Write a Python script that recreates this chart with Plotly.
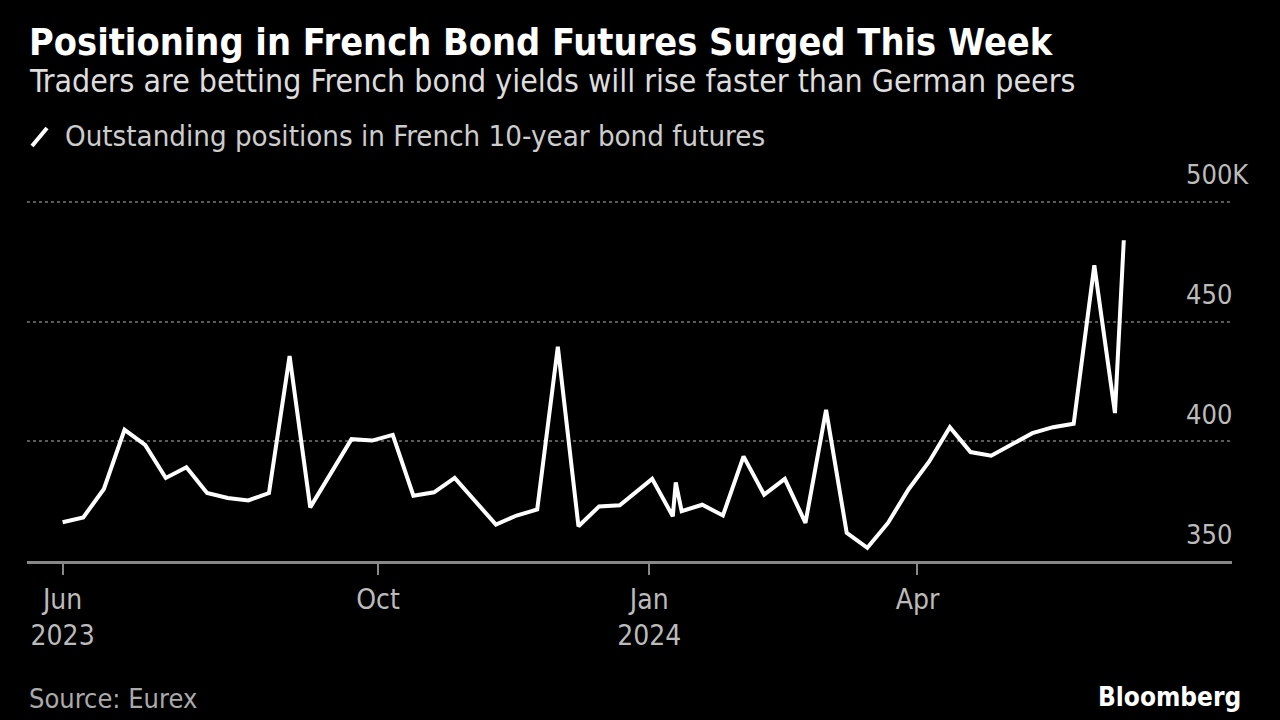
import plotly.graph_objects as go

# ---- data ----
dates = [
    "2023-06-16", "2023-06-23", "2023-06-30", "2023-07-07", "2023-07-14", "2023-07-21",
    "2023-07-28", "2023-08-04", "2023-08-11", "2023-08-18", "2023-08-25", "2023-09-01",
    "2023-09-08", "2023-09-15", "2023-09-22", "2023-09-29", "2023-10-06", "2023-10-13",
    "2023-10-20", "2023-10-27", "2023-11-03", "2023-11-10", "2023-11-17", "2023-11-24",
    "2023-12-01", "2023-12-08", "2023-12-15", "2023-12-22", "2024-01-02", "2024-01-09",
    "2024-01-10", "2024-01-12", "2024-01-19", "2024-01-26", "2024-02-02", "2024-02-09",
    "2024-02-16", "2024-02-23", "2024-03-01", "2024-03-08", "2024-03-15", "2024-03-22",
    "2024-03-29", "2024-04-05", "2024-04-12", "2024-04-19", "2024-04-26", "2024-05-03",
    "2024-05-10", "2024-05-17", "2024-05-24", "2024-05-31", "2024-06-07", "2024-06-10",
]
positions_k = [
    366.2, 368.2, 380.1, 404.8, 398.5, 384.7,
    389.2, 378.4, 376.3, 375.3, 378.4, 435.6,
    372.4, 386.5, 400.9, 400.3, 402.7, 377.3,
    378.7, 384.7, 374.9, 365.2, 369.0, 371.5,
    439.5, 364.5, 372.8, 373.3, 384.3, 368.7,
    382.8, 370.8, 373.5, 369.0, 393.7, 377.7,
    384.3, 365.9, 413.1, 361.8, 355.5, 365.9,
    380.0, 391.6, 405.9, 395.5, 394.0, 398.5,
    403.4, 405.9, 407.3, 473.5, 411.8, 484.0,
]

x_tick_vals = ["2023-06-16", "2023-10-01", "2024-01-01", "2024-04-01"]
x_tick_text = ["Jun<br>2023", "Oct", "Jan<br>2024", "Apr"]
y_tick_vals = [350, 400, 450, 500]
y_tick_text = ["350", "400", "450", "500K"]

title = "Positioning in French Bond Futures Surged This Week"
subtitle = "Traders are betting French bond yields will rise faster than German peers"
legend_text = "Outstanding positions in French 10-year bond futures"
source = "Source: Eurex"
brand = "Bloomberg"

FONT = "DejaVu Sans Condensed, Liberation Sans Narrow, DejaVu Sans, sans-serif"

W, H = 1280, 720
ML, MR, MT, MB = 27, 48, 178, 159
PH = H - MT - MB
PW = W - ML - MR


def py(pix):
    return (H - MB - pix) / PH


def px(pix):
    return (pix - ML) / PW


fig = go.Figure()
fig.add_trace(go.Scatter(
    x=dates, y=positions_k, mode="lines",
    line=dict(color="white", width=4),
    showlegend=False, hoverinfo="x+y",
))

fig.update_layout(
    width=W, height=H, autosize=False,
    paper_bgcolor="black", plot_bgcolor="black",
    margin=dict(l=ML, r=MR, t=MT, b=MB),
    font=dict(family=FONT, color="#bbbbbb", size=28),
    xaxis=dict(
        type="date",
        range=["2023-06-03 22:00", "2024-07-16 17:00"],
        tickvals=x_tick_vals, ticktext=x_tick_text,
        ticks="outside", ticklen=11, tickwidth=2, tickcolor="#888888",
        showline=True, linecolor="#888888", linewidth=3,
        showgrid=False, zeroline=False,
        tickfont=dict(size=28, color="#bbbbbb"),
    ),
    yaxis=dict(
        range=[350, 510],
        tickvals=y_tick_vals,
        showticklabels=False,
        showgrid=True, gridcolor="#5a5a5a", gridwidth=2, griddash="dot",
        zeroline=False, showline=False, ticks="",
    ),
)

annotations = []
for v, t in zip(y_tick_vals, y_tick_text):
    annotations.append(dict(
        x=px(1184), xref="paper", y=v, yref="y",
        text=t, showarrow=False, xanchor="left", yanchor="middle", yshift=27,
        font=dict(size=27, color="#bbbbbb", family=FONT),
    ))

annotations += [
    dict(x=px(27), xref="paper", y=py(42), yref="paper", text="<b>" + title + "</b>",
         showarrow=False, xanchor="left", yanchor="middle",
         font=dict(size=37.6, color="white", family=FONT)),
    dict(x=px(27), xref="paper", y=py(80), yref="paper", text=subtitle,
         showarrow=False, xanchor="left", yanchor="middle",
         font=dict(size=31.8, color="#dddddd", family=FONT)),
    dict(x=px(63), xref="paper", y=py(136), yref="paper", text=legend_text,
         showarrow=False, xanchor="left", yanchor="middle",
         font=dict(size=29.2, color="#cccccc", family=FONT)),
    dict(x=px(27), xref="paper", y=py(698), yref="paper", text=source,
         showarrow=False, xanchor="left", yanchor="middle",
         font=dict(size=27, color="#aaaaaa", family=FONT)),
    dict(x=px(1243), xref="paper", y=py(697), yref="paper", text="<b>" + brand + "</b>",
         showarrow=False, xanchor="right", yanchor="middle",
         font=dict(size=26, color="white", family=FONT)),
]
fig.update_layout(annotations=annotations)

# legend swatch (slash)
fig.add_shape(type="line", xref="paper", yref="paper",
              x0=px(32), y0=py(146), x1=px(47), y1=py(128),
              line=dict(color="white", width=4))

fig.write_html("out.html", config={"displayModeBar": False},
               post_script="document.body.style.margin='0';")
